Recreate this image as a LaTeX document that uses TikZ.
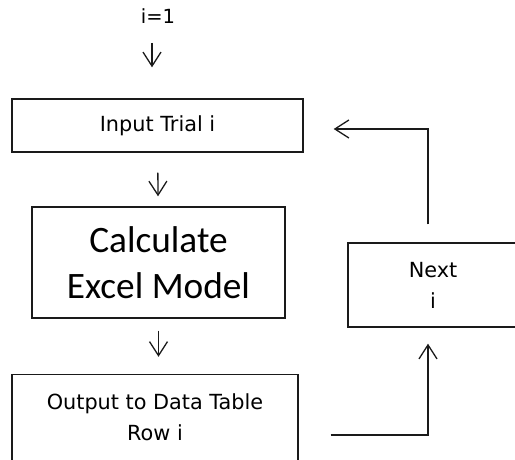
\documentclass[tikz,border=0pt]{standalone}
\usepackage{fontspec}
\setmainfont{DejaVu Sans}
\newfontfamily\calcfont{Carlito}
\usetikzlibrary{arrows.meta,positioning,calc}
\definecolor{boxLine}{HTML}{1A1A1A}
\tikzset{
  stepbox/.style={draw=boxLine, line width=1.4pt, fill=white, align=center,
    inner sep=0pt, font=\fontsize{20.8}{31}\selectfont},
  bigbox/.style={stepbox, font=\calcfont\fontsize{37.3}{46}\selectfont},
  starttext/.style={font=\fontsize{19.5}{24}\selectfont},
  arc/.style={-{Straight Barb[length=14pt,width=18pt,line width=1.3pt]}, line width=1.3pt, draw=boxLine},
}
\begin{document}
\begin{tikzpicture}[x=1pt,y=1pt]
    \useasboundingbox (0,0) rectangle (515,459);
    \node[starttext] (init) at (158,443) {i=1};
    \node[stepbox, minimum width=291pt, minimum height=53pt] (input) at (157.5,333.5) {Input Trial i};
    \node[bigbox, minimum width=253pt, minimum height=111pt] (calc) at (158.5,196.5) {Calculate\\Excel Model};
    \node[stepbox, minimum width=286pt, minimum height=86pt] (output) at (155,41.5) {Output to Data Table\\Row i};
    \node[stepbox, minimum width=170pt, minimum height=84pt] (next) at (433,174) {Next\\i};
    \draw[arc, shorten <=27pt, shorten >=31pt] ([xshift=-6pt]init.center) -- ([xshift=-6pt]init |- input.north);
    \draw[arc, shorten <=20pt, shorten >=10pt] (input) -- (calc);
    \draw[arc, shorten <=12pt, shorten >=17pt] (calc) -- (calc |- output.north);
    % loop back to the next trial
    \coordinate (loopstart) at ([xshift=32pt,yshift=-17.5pt]output.east);
    \draw[arc, shorten >=16pt] (loopstart) -| ([xshift=-5pt]next.south);
    \draw[arc, shorten <=18pt, shorten >=30pt] ([xshift=-5pt]next.north) |- ([yshift=-3.5pt]input.east);
  \end{tikzpicture}
\end{document}
